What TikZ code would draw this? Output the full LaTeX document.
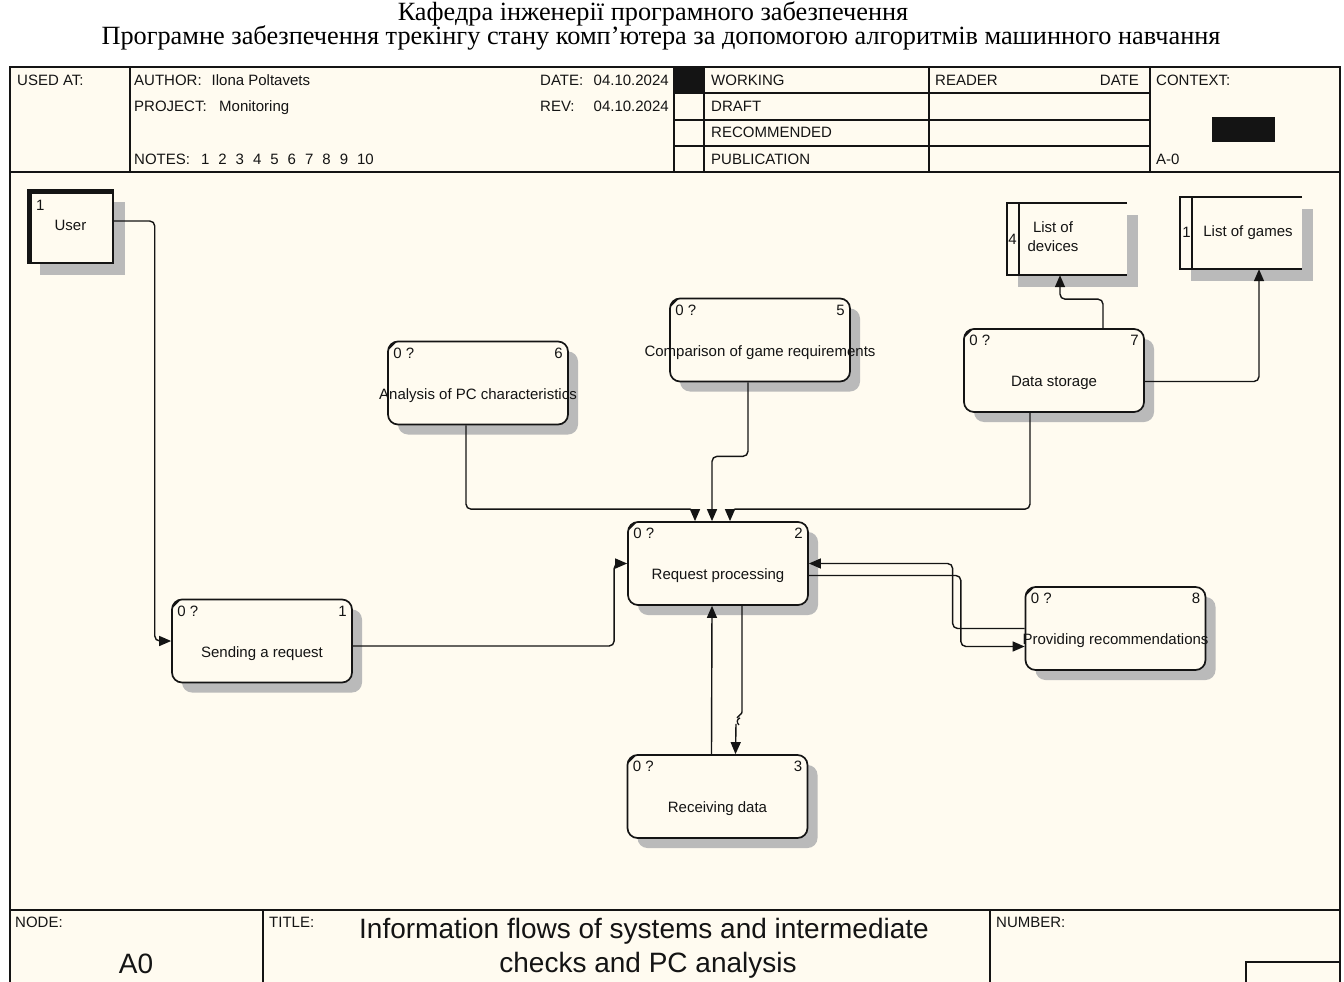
\documentclass[tikz,border=0pt]{standalone}
\usepackage{fontspec}
\setmainfont{Liberation Serif}
\newfontfamily\arialf{Liberation Sans}
\usetikzlibrary{arrows.meta,shadows}

\definecolor{paper}{RGB}{255,251,240}
\definecolor{shadowgrey}{RGB}{186,186,186}
\definecolor{ink}{RGB}{20,20,20}

\tikzset{
  sans/.style={font=\arialf\fontsize{15}{19}\selectfont, text=ink},
  txt/.style={sans, inner sep=0pt},
  big/.style={font=\arialf\fontsize{28}{34}\selectfont, text=ink, inner sep=0pt},
  framerule/.style={line width=2pt, draw=ink},
  act/.style={sans, draw=ink, line width=1.7pt, rounded corners=10pt, fill=paper,
    minimum width=180pt, minimum height=83pt, inner sep=0pt,
    text height=36pt, text depth=4pt,
    execute at begin node={\hbox to 0pt\bgroup\hss},
    execute at end node={\hss\egroup},
    general shadow={shadow xshift=10pt, shadow yshift=-10pt, fill=shadowgrey},
    label={[txt, anchor=base west, xshift=6pt, yshift=-17.5pt]north west:0 ?},
    label={[txt, anchor=base east, xshift=-6pt, yshift=-17.5pt]north east:#1}},
  cornermark/.style={line width=1.8pt, draw=ink},
  entity/.style={sans, draw=ink, line width=1.5pt, fill=paper,
    minimum width=85pt, minimum height=73pt, inner sep=0pt,
    text height=10.5pt, text depth=3.5pt,
    general shadow={shadow xshift=12pt, shadow yshift=-12pt, fill=shadowgrey}},
  store/.style={fill=paper, minimum width=#1, minimum height=72pt, inner sep=0pt,
    general shadow={shadow xshift=11pt, shadow yshift=-12pt, fill=shadowgrey}},
  storeline/.style={line width=1.7pt, draw=ink},
  flow/.style={line width=1.4pt, draw=ink, rounded corners=5pt,
    -{Triangle[length=12pt,width=10pt]}},
  jumpmark/.style={line width=1.3pt, draw=ink},
}

\begin{document}
\begin{tikzpicture}[x=1pt,y=-1pt]
\useasboundingbox (0,0) rectangle (1344,982);
\clip (0,0) rectangle (1344,982);
\fill[white] (0,0) rectangle (1344,982);
\fill[paper] (10,67) rectangle (1340,1000);

% heading above the form
\node[anchor=base, inner sep=0pt, font=\fontsize{26.3}{30}\selectfont] (dept) at (653,21)
  {Кафедра інженерії програмного забезпечення};
\node[anchor=base, inner sep=0pt, font=\fontsize{26.3}{30}\selectfont] (theme) at (661,45)
  {Програмне забезпечення трекінгу стану комп’ютера за допомогою алгоритмів машинного навчання};

% form frame and header grid
\draw[framerule] (10,67) rectangle (1340,1000);
\draw[framerule] (10,172) -- (1340,172);
\draw[framerule] (10,910) -- (1340,910);
\foreach \x in {130,674,704,929,1150} \draw[framerule] (\x,67) -- (\x,172);
\foreach \y in {93,120,146} \draw[framerule] (674,\y) -- (1150,\y);
\fill[ink] (674,67) rectangle (704,93);
\fill[ink] (1212,117) rectangle (1275,142);
\draw[framerule] (263,910) -- (263,1000);
\draw[framerule] (990,910) -- (990,1000);
\draw[framerule] (1246,1000) |- (1340,962);

% header texts
\node[txt,anchor=base west] (usedat) at (17,85) {USED AT:};
\node[txt,anchor=base west] (author) at (134,85) {\makebox[77.5pt][l]{AUTHOR:}Ilona Poltavets};
\node[txt,anchor=base west] (project) at (134,111) {\makebox[85pt][l]{PROJECT:}Monitoring};
\node[txt,anchor=base west] (notes) at (134,164)
  {NOTES:\hspace{11pt}1\hspace{9pt}2\hspace{9pt}3\hspace{9pt}4\hspace{9pt}5\hspace{9pt}6\hspace{9pt}7\hspace{9pt}8\hspace{9pt}9\hspace{9pt}10};
\node[txt,anchor=base west] (date) at (540,85) {\makebox[53.5pt][l]{DATE:}04.10.2024};
\node[txt,anchor=base west] (rev) at (540,111) {\makebox[53.5pt][l]{REV:}04.10.2024};
\node[txt,anchor=base west] (working) at (711,85) {WORKING};
\node[txt,anchor=base west] (draft) at (711,111) {DRAFT};
\node[txt,anchor=base west] (recom) at (711,137) {RECOMMENDED};
\node[txt,anchor=base west] (publ) at (711,164) {PUBLICATION};
\node[txt,anchor=base west] (reader) at (935,85) {READER};
\node[txt,anchor=base east] (rdate) at (1139,85) {DATE};
\node[txt,anchor=base west] (context) at (1156,85) {CONTEXT:};
\node[txt,anchor=base west] (aref) at (1156,164) {A-0};

% footer texts
\node[txt,anchor=base west] (nodelbl) at (15,927) {NODE:};
\node[txt,anchor=base west] (titlelbl) at (269,927) {TITLE:};
\node[txt,anchor=base west] (numlbl) at (996,927) {NUMBER:};
\node[big,anchor=base] (nodeval) at (136,973) {A0};
\node[big,anchor=base] (title1) at (644,938) {Information flows of systems and intermediate};
\node[big,anchor=base] (title2) at (648,972) {checks and PC analysis};

% external entity
\node[entity] (user) at (70.5,226.5) {User};
\node[txt,anchor=base west] (usernum) at (36,210) {1};
\draw[line width=5pt, draw=ink] ([xshift=2.5pt]user.south west) -- ([xshift=2.5pt,yshift=-2.5pt]user.north west) -- ([yshift=-2.5pt]user.north east);

% data stores
\node[store=120pt] (dev) at (1067,239) {};
\node[store=122pt] (gam) at (1241,233) {};
\foreach \s in {dev,gam}{
  \draw[storeline] (\s.north east) -- (\s.north west) -- (\s.south west) -- (\s.south east);
  \draw[storeline] ([xshift=12pt]\s.north west) -- ([xshift=12pt]\s.south west);
}
\node[txt] (devnum) at (1012.5,239) {4};
\node[txt,align=center] (devname) at (1053,237) {List of\\devices};
\node[txt] (gamnum) at (1186.5,232) {1};
\node[txt] (gamname) at (1248,233) {List of games};

% activities
\node[act=6] (ana) at (478,383) {Analysis of PC characteristics};
\node[act=5] (cmp) at (760,340) {Comparison of game requirements};
\node[act=7] (dst) at (1054,370.5) {Data storage};
\node[act=2] (rp) at (718,563.5) {Request processing};
\node[act=1] (send) at (262,641) {Sending a request};
\node[act=8] (prov) at (1115.5,628.5) {Providing recommendations};
\node[act=3] (rcv) at (717.5,796.5) {Receiving data};
\foreach \b in {ana,cmp,dst,rp,send,prov,rcv}
  \draw[cornermark] ([shift={(1.5,8)}]\b.north west) -- ([shift={(8,1.5)}]\b.north west);

% flows
\draw[flow] ([yshift=5.5pt]user.east) -- ++(41,0) |- (send.west);
\draw[flow] ([yshift=-5pt]send.east) -| ([xshift=-13pt]rp.west) -- (rp.west);
\draw[flow] ([xshift=-12pt]ana.south) |- ([xshift=-23pt,yshift=12pt]rp.north) -- ([xshift=-23pt]rp.north);
\draw[flow] ([xshift=-12pt]cmp.south) -- ++(0,74) -| ([xshift=-6pt]rp.north);
\draw[flow] ([xshift=-24pt]dst.south) |- ([xshift=12pt,yshift=12pt]rp.north) -- ([xshift=12pt]rp.north);
\draw[flow] ([xshift=49pt]dst.north) -- ++(0,-29) -| ([xshift=-7pt]dev.south);
\draw[flow] ([yshift=-11pt]dst.east) -| ([xshift=18pt]gam.south);
\draw[flow] (prov.west) -- ++(-72,0) |- (rp.east);
\draw[flow] ([yshift=-12pt]rp.east) -- ++(152,0) |- ([yshift=-18pt]prov.west);
\draw[flow] ([xshift=-6pt]rcv.north) -- ([xshift=-6pt]rp.south);
% output to data reception, with a break mark on its way down
\draw[flow] ([xshift=24pt]rp.south) -- ([xshift=24pt,yshift=-101pt]rp.south)
  .. controls ([xshift=24pt,yshift=-109pt]rp.south) and ([xshift=20pt,yshift=-109pt]rp.south) .. ([xshift=19pt,yshift=-112pt]rp.south)
  ([xshift=18pt,yshift=-118pt]rp.south) -- ([xshift=18pt]rcv.north);
\draw[jumpmark] ([xshift=22pt,yshift=-112pt]rp.south) .. controls ([xshift=18.5pt,yshift=-113.5pt]rp.south) and ([xshift=18.5pt,yshift=-117pt]rp.south) .. ([xshift=21pt,yshift=-119pt]rp.south);
\end{tikzpicture}
\end{document}
